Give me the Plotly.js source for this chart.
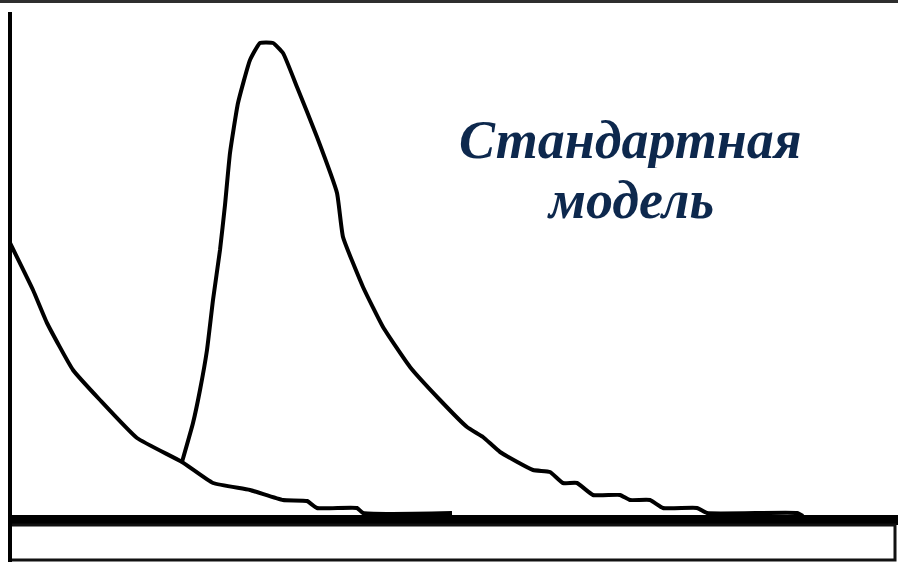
<!DOCTYPE html>
<html>
<head>
<meta charset="utf-8">
<script src="https://cdn.plot.ly/plotly-3.0.1.min.js"></script>
<style>html,body{margin:0;padding:0;background:#fff;}#chart{width:898px;height:562px;}</style>
</head>
<body>
<div id="chart"></div>
<script>
// Background decay curve (time, signal)
const decayX = [0, 23, 37, 63, 90, 127, 172, 203, 240, 273, 297, 307, 347, 353, 442];
const decayY = [273, 226, 193, 146, 116, 78, 54, 33, 26, 16, 15, 8, 8, 3, 3];

// Peak curve (time, signal)
const peakX = [172, 183, 190, 197, 203, 210, 215, 220, 228, 240, 250, 263, 273, 287, 307, 327, 333, 353, 373, 400, 430, 457, 473, 490, 523, 540, 553, 567, 583, 610, 620, 640, 653, 687, 697, 787, 793];
const peakY = [54, 93, 126, 166, 216, 266, 311, 363, 413, 456, 473, 473, 463, 429, 379, 323, 279, 229, 189, 149, 116, 89, 79, 64, 46, 44, 33, 33, 21, 21, 16, 16, 8, 8, 3, 3, 0];

const labelLine1 = "Стандартная";
const labelLine2 = "модель";

const lineStyle = {color: "#000", width: 4, shape: "spline", smoothing: 0.4};

const traces = [
  {x: decayX, y: decayY, mode: "lines", line: lineStyle, hoverinfo: "skip", showlegend: false},
  {x: peakX, y: peakY, mode: "lines", line: lineStyle, hoverinfo: "skip", showlegend: false}
];

const hidden = {visible: false, showgrid: false, zeroline: false, fixedrange: true};
const textFont = {family: "Liberation Serif, Times New Roman, serif", size: 54, color: "#0d284d", style: "italic", weight: "bold"};

const layout = {
  width: 898, height: 562,
  margin: {l: 0, r: 0, t: 0, b: 0, pad: 0},
  paper_bgcolor: "#fff", plot_bgcolor: "#fff",
  xaxis: Object.assign({range: [-10, 888]}, hidden),
  yaxis: Object.assign({range: [-46, 516]}, hidden),
  shapes: [
    // top border
    {type: "rect", xref: "paper", yref: "paper", x0: 0, x1: 1, y0: 1 - 3/562, y1: 1, fillcolor: "#2e2e2e", line: {width: 0}, layer: "above"},
    // thick baseline
    {type: "rect", xref: "paper", yref: "y", x0: 9/898, x1: 1, y0: -9, y1: 1, fillcolor: "#000", line: {width: 0}, layer: "above"},
    // lower box
    {type: "rect", xref: "x", yref: "y", x0: 0, x1: 885, y0: -44, y1: -9, fillcolor: "rgba(0,0,0,0)", line: {color: "#111", width: 3}, layer: "above"},
    // vertical axis line
    {type: "line", xref: "x", yref: "y", x0: 0, x1: 0, y0: -46, y1: 504, line: {color: "#000", width: 4}, layer: "above"}
  ],
  annotations: [
    {text: labelLine1, xref: "x", yref: "y", x: 620, y: 376, xanchor: "center", yanchor: "middle", showarrow: false, height: 56, font: textFont},
    {text: labelLine2, xref: "x", yref: "y", x: 620, y: 316, xanchor: "center", yanchor: "middle", showarrow: false, height: 56, font: textFont}
  ]
};

Plotly.newPlot("chart", traces, layout, {staticPlot: true, displayModeBar: false});
</script>
</body>
</html>
